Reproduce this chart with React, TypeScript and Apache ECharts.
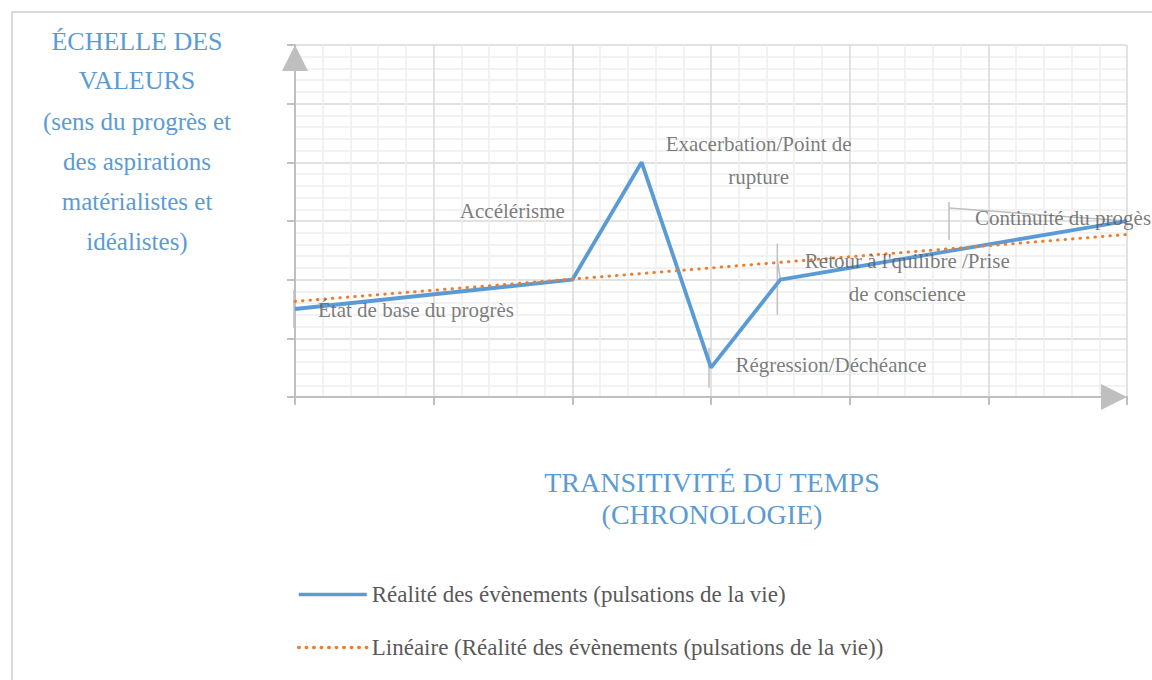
import React, { useEffect, useRef } from "react";
import * as echarts from "echarts";

// ---- Data ----
const xValues = [0, 2, 2.5, 3, 3.5, 6];
const yValues = [1.5, 2, 4, 0.5, 2, 3];
const pointLabels = [
  "État de base du progrès",
  "Accélérisme",
  "Exacerbation/Point de\nrupture",
  "Régression/Déchéance",
  "Retour à l'quilibre /Prise\nde conscience",
  "Continuité du progès",
];
const trendX = [0, 6];
const trendY = [1.63, 2.77];

const seriesName = "Réalité des évènements (pulsations de la vie)";
const trendName = "Linéaire (Réalité des évènements (pulsations de la vie))";
const yTitleCaps = ["ÉCHELLE DES", "VALEURS"];
const yTitleLines = ["(sens du progrès et", "des aspirations", "matérialistes et", "idéalistes)"];
const xTitleLines = ["TRANSITIVITÉ DU TEMPS", "(CHRONOLOGIE)"];

// ---- Styles ----
const BLUE = "#5B9BD5";
const ORANGE = "#ED7D31";
const GRAY_TEXT = "#595959";
const SERIF = "'Liberation Serif', 'DejaVu Serif', serif";

// label offsets (px) relative to each point
const labelOffsets: number[][] = [
  [121, 1],
  [-60, -69],
  [117, -2],
  [120, -3],
  [127, -2],
  [-64, -3],
];
// leader line segments (px offsets relative to each point)
const leaderSegments: Record<number, number[][][]> = {
  0: [[[-1, -19], [-1, 19]]],
  3: [[[-2, -20], [-2, 20]]],
  4: [
    [[-3, -36], [-3, 35]],
    [[-3, -20], [0, 0]],
  ],
  5: [
    [[-178, -19], [-178, 19]],
    [[-178, -13], [0, 0]],
  ],
};

export default function App() {
  const ref = useRef<HTMLDivElement>(null);

  useEffect(() => {
    if (!ref.current) return;
    const chart = echarts.init(ref.current, undefined, { renderer: "svg" });

    const points = xValues.map((x, i) => [x, yValues[i]]);
    const trend = trendX.map((x, i) => [x, trendY[i]]);

    const axisCommon = {
      type: "value" as const,
      min: 0,
      max: 6,
      interval: 1,
      axisLabel: { show: false },
      axisLine: {
        show: true,
        symbol: ["none", "triangle"],
        symbolSize: [26, 26],
        symbolOffset: [0, -13],
        lineStyle: { color: "#bfbfbf", width: 2 },
      },
      axisTick: { show: true, length: 8, lineStyle: { color: "#bfbfbf", width: 2 } },
      splitLine: { show: true, lineStyle: { color: "#d9d9d9", width: 1.5 } },
      minorTick: { show: false, splitNumber: 5 },
      minorSplitLine: { show: true, lineStyle: { color: "#eeeeee", width: 1.5 } },
    };

    const graphics: any[] = [
      {
        type: "rect",
        shape: { x: 12, y: 12, width: 1170, height: 700 },
        style: { fill: "none", stroke: "#d9d9d9", lineWidth: 2 },
        silent: true,
      },
    ];
    const yCenters = [41, 80, 121, 161, 201, 241];
    [...yTitleCaps, ...yTitleLines].forEach((t, i) => {
      graphics.push({
        type: "text",
        x: 137,
        y: yCenters[i],
        style: {
          text: t,
          fill: BLUE,
          font: `${i < 2 ? 26 : 25}px ${SERIF}`,
          textAlign: "center",
          textVerticalAlign: "middle",
        },
      });
    });
    const xCenters = [482, 514];
    xTitleLines.forEach((t, i) => {
      graphics.push({
        type: "text",
        x: 712,
        y: xCenters[i],
        style: {
          text: t,
          fill: BLUE,
          font: `28px ${SERIF}`,
          textAlign: "center",
          textVerticalAlign: "middle",
        },
      });
    });

    chart.setOption({
      animation: false,
      textStyle: { fontFamily: SERIF },
      grid: { left: 295, right: 25, top: 45, bottom: 283, containLabel: false },
      xAxis: { ...axisCommon },
      yAxis: { ...axisCommon },
      legend: {
        data: [seriesName, trendName],
        orient: "vertical",
        left: 297,
        top: 583,
        padding: 0,
        itemWidth: 68,
        itemHeight: 20,
        itemGap: 30,
        itemStyle: { color: "rgba(0,0,0,0)", borderWidth: 0, opacity: 0 },
        lineStyle: { width: 3.5 },
        textStyle: { fontFamily: SERIF, fontSize: 23, color: GRAY_TEXT },
      },
      graphic: graphics,
      series: [
        {
          name: seriesName,
          type: "line",
          data: points,
          symbol: "none",
          showSymbol: false,
          lineStyle: { color: BLUE, width: 3.8 },
          itemStyle: { color: BLUE },
          z: 3,
        },
        {
          name: trendName,
          type: "line",
          data: trend,
          symbol: "none",
          showSymbol: false,
          lineStyle: { color: ORANGE, width: 3, type: [0.5, 7], cap: "round" },
          itemStyle: { color: ORANGE },
          z: 4,
        },
        {
          name: "leaders",
          type: "custom",
          data: points.map((p, i) => [p[0], p[1], i]),
          encode: { x: 0, y: 1 },
          clip: false,
          z: 2,
          renderItem: (params: any, api: any) => {
            const i = api.value(2);
            const p = api.coord([api.value(0), api.value(1)]);
            const segs = leaderSegments[i] || [];
            return {
              type: "group",
              children: segs.map((seg) => ({
                type: "polyline",
                shape: { points: seg.map(([dx, dy]) => [p[0] + dx, p[1] + dy]) },
                style: { stroke: "#bfbfbf", lineWidth: 1.5, fill: "none" },
              })),
            };
          },
        },
        {
          name: "labels",
          type: "scatter",
          data: points.map((p, i) => ({
            value: p,
            label: {
              show: true,
              formatter: pointLabels[i],
              position: "inside",
              offset: labelOffsets[i],
            },
          })),
          symbol: "circle",
          symbolSize: 1,
          itemStyle: { color: "rgba(0,0,0,0)" },
          label: {
            fontFamily: SERIF,
            fontSize: 21,
            color: GRAY_TEXT,
            lineHeight: 33,
            align: "center",
            verticalAlign: "middle",
          },
          z: 5,
          silent: true,
        },
      ],
    });

    return () => chart.dispose();
  }, []);

  return (
    <div
      ref={ref}
      style={{ position: "absolute", left: 0, top: 0, width: 1152, height: 680 }}
    />
  );
}
